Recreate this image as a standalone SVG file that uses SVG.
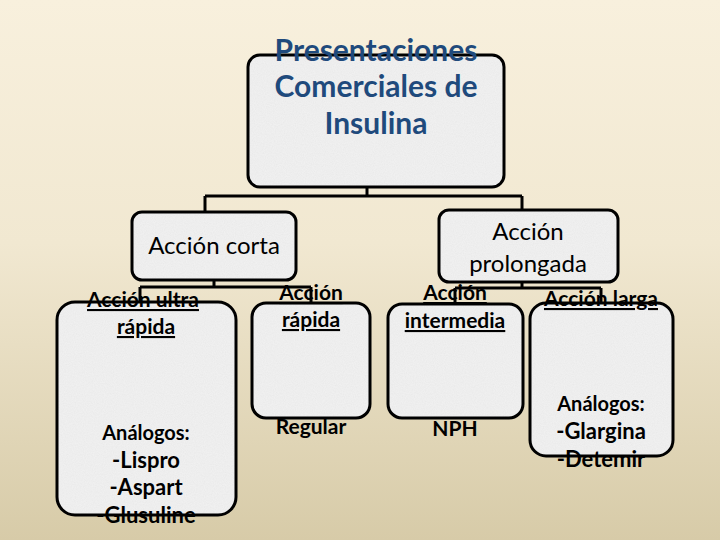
<svg xmlns="http://www.w3.org/2000/svg" width="720" height="540" viewBox="0 0 720 540">
<defs>
<linearGradient id="bg" x1="0" y1="0" x2="0" y2="1">
<stop offset="0" stop-color="#f8f0dd"/>
<stop offset="0.45" stop-color="#f1e8d1"/>
<stop offset="1" stop-color="#d7cba8"/>
</linearGradient>
<filter id="tex" x="0" y="0" width="100%" height="100%">
<feTurbulence type="fractalNoise" baseFrequency="0.9" numOctaves="2" seed="3" result="n"/>
<feColorMatrix in="n" type="matrix" values="0 0 0 0 0.8  0 0 0 0 0.8  0 0 0 0 0.8  0 0 0 -1.2 0.85" result="g"/>
<feComposite in="g" in2="SourceGraphic" operator="in" result="gi"/>
<feMerge><feMergeNode in="SourceGraphic"/><feMergeNode in="gi"/></feMerge>
</filter>
</defs>
<style>
.fill{fill:#f0f0f0;stroke:none;filter:url(#tex)}
.box{fill:none;stroke:#000;stroke-width:3}
.edge{fill:none;stroke:#000;stroke-width:3}
.t{font-family:Lato,"Open Sans","Liberation Sans",sans-serif;text-anchor:middle;fill:#000}
.title{font-weight:bold;font-size:30px;fill:#1f4a7c}
.h{font-size:24px}
.u{font-weight:bold;font-size:21px;text-decoration:underline}
.b{font-weight:bold;font-size:21px}
.s{font-weight:bold;font-size:20px}
.m{font-weight:bold;font-size:22px}
</style>
<rect width="720" height="540" fill="url(#bg)"/>
<g id="connectors">
<path class="edge" d="M367 187V196M205 196H522M205 196V212M522 196V210"/>
<path class="edge" d="M214 280V287M140 287H311M140 287V302M311 287V303"/>
<path class="edge" d="M522 282V288M455 288H601M455 288V304M601 288V303"/>
</g>
<g id="n-root"><rect class="fill" x="248" y="55" width="256" height="132" rx="12"/><rect class="box" x="248" y="55" width="256" height="132" rx="12"/></g>
<g id="n-corta"><rect class="fill" x="132" y="212" width="164" height="68" rx="10"/><rect class="box" x="132" y="212" width="164" height="68" rx="10"/></g>
<g id="n-prolongada"><rect class="fill" x="439" y="210" width="179" height="72" rx="10"/><rect class="box" x="439" y="210" width="179" height="72" rx="10"/></g>
<g id="n-ultra"><rect class="fill" x="57" y="302" width="179" height="213" rx="18"/><rect class="box" x="57" y="302" width="179" height="213" rx="18"/></g>
<g id="n-rapida"><rect class="fill" x="252" y="303" width="118" height="115" rx="14"/><rect class="box" x="252" y="303" width="118" height="115" rx="14"/></g>
<g id="n-intermedia"><rect class="fill" x="388" y="304" width="135" height="114" rx="14"/><rect class="box" x="388" y="304" width="135" height="114" rx="14"/></g>
<g id="n-larga"><rect class="fill" x="530" y="303" width="143" height="153" rx="16"/><rect class="box" x="530" y="303" width="143" height="153" rx="16"/></g>
<g id="labels">
<text class="t title" x="376" y="61">Presentaciones</text>
<text class="t title" x="376" y="97">Comerciales de</text>
<text class="t title" x="376" y="134">Insulina</text>
<text class="t h" x="214" y="254">Acción corta</text>
<text class="t h" x="528" y="240">Acción</text>
<text class="t h" x="528" y="272">prolongada</text>
<text class="t u" x="143" y="307">Acción ultra</text>
<text class="t u" x="146" y="334">rápida</text>
<text class="t u" x="311" y="300">Acción</text>
<text class="t u" x="311" y="327">rápida</text>
<text class="t u" x="455" y="300">Acción</text>
<text class="t u" x="455" y="328">intermedia</text>
<text class="t u" x="601" y="306">Acción larga</text>
<text class="t s" x="146" y="440">Análogos:</text>
<text class="t m" x="146" y="468">-Lispro</text>
<text class="t m" x="146" y="495">-Aspart</text>
<text class="t m" x="146" y="523">-Glusuline</text>
<text class="t b" x="311" y="434">Regular</text>
<text class="t b" x="455" y="436">NPH</text>
<text class="t s" x="601" y="411">Análogos:</text>
<text class="t m" x="601" y="439">-Glargina</text>
<text class="t m" x="601" y="467">-Detemir</text>
</g>
</svg>
